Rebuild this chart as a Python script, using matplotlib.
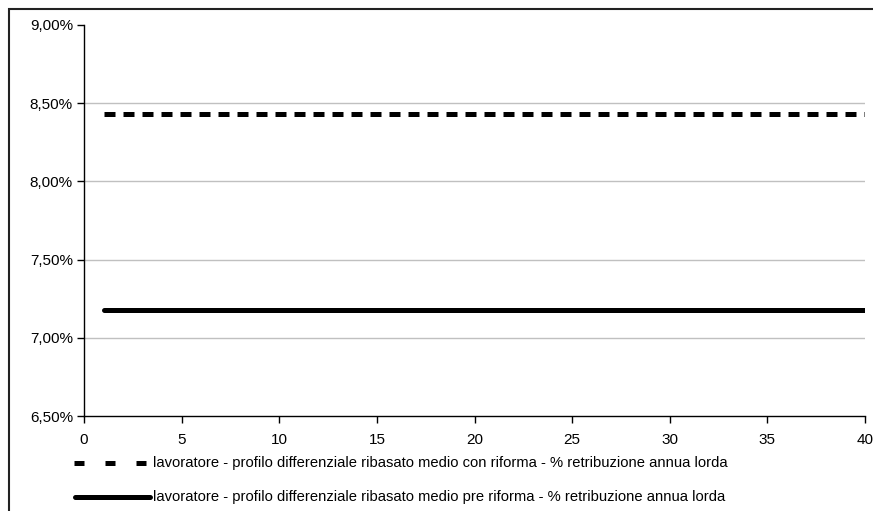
import matplotlib
matplotlib.use("Agg")
import matplotlib.pyplot as plt
from matplotlib import font_manager
from matplotlib.lines import Line2D
from matplotlib.patches import Rectangle
from matplotlib.ticker import FuncFormatter, MultipleLocator

# pick the regular (non-narrow) Liberation Sans face
regular = [f for f in font_manager.fontManager.ttflist
           if 'LiberationSans-Regular' in f.fname]
plt.rcParams['font.family'] = ['Liberation Sans', 'DejaVu Sans']

# Years of the working career
anni = list(range(1, 41))

# Average rebased differential profile, % of gross annual pay
con_riforma = [0.0843, 0.0843, 0.0843, 0.0843, 0.0843, 0.0843, 0.0843, 0.0843,
               0.0843, 0.0843, 0.0843, 0.0843, 0.0843, 0.0843, 0.0843, 0.0843,
               0.0843, 0.0843, 0.0843, 0.0843, 0.0843, 0.0843, 0.0843, 0.0843,
               0.0843, 0.0843, 0.0843, 0.0843, 0.0843, 0.0843, 0.0843, 0.0843,
               0.0843, 0.0843, 0.0843, 0.0843, 0.0843, 0.0843, 0.0843, 0.0843]
pre_riforma = [0.0718, 0.0718, 0.0718, 0.0718, 0.0718, 0.0718, 0.0718, 0.0718,
               0.0718, 0.0718, 0.0718, 0.0718, 0.0718, 0.0718, 0.0718, 0.0718,
               0.0718, 0.0718, 0.0718, 0.0718, 0.0718, 0.0718, 0.0718, 0.0718,
               0.0718, 0.0718, 0.0718, 0.0718, 0.0718, 0.0718, 0.0718, 0.0718,
               0.0718, 0.0718, 0.0718, 0.0718, 0.0718, 0.0718, 0.0718, 0.0718]

etichetta_con = "lavoratore - profilo differenziale ribasato medio con riforma - % retribuzione annua lorda"
etichetta_pre = "lavoratore - profilo differenziale ribasato medio pre riforma - % retribuzione annua lorda"

fp = font_manager.FontProperties(fname=regular[0].fname) if regular else None

W, H = 873, 511
fig = plt.figure(figsize=(W / 100, H / 100), dpi=100)
ax = fig.add_axes([84 / W, 1 - 416 / H, (865 - 84) / W, (416 - 25) / H])

# horizontal grid
for g in [0.070, 0.075, 0.080, 0.085]:
    ax.axhline(g, color='#c0c0c0', lw=1.0, zorder=0)

ax.plot(anni, con_riforma, color='black', lw=3.6, linestyle=(0, (2.2, 1.6)),
        dash_capstyle='butt', zorder=3)
ax.plot(anni, pre_riforma, color='black', lw=3.6, solid_capstyle='round', zorder=3)

ax.set_xlim(0, 40)
ax.set_ylim(0.065, 0.090)
ax.xaxis.set_major_locator(MultipleLocator(5))
ax.yaxis.set_major_locator(MultipleLocator(0.005))
ax.yaxis.set_major_formatter(FuncFormatter(lambda v, p: f"{v * 100:.2f}%".replace('.', ',')))

for s in ['top', 'right']:
    ax.spines[s].set_visible(False)
for s in ['left', 'bottom']:
    ax.spines[s].set_linewidth(1.0)
    ax.spines[s].set_color('black')
ax.tick_params(axis='both', direction='out', length=5, width=1.0,
               colors='black', pad=3)
ax.tick_params(axis='x', pad=7)
for lab in ax.get_xticklabels() + ax.get_yticklabels():
    if fp is not None:
        lab.set_fontproperties(fp)
    lab.set_fontsize(11)


def fx(x):
    return x / W


def fy(y):
    return 1 - y / H


# legend below the plot
fig.add_artist(Line2D([fx(74), fx(148)], [fy(463), fy(463)], color='black', lw=3.6,
                      linestyle=(0, (2.0, 4.2)), dash_capstyle='butt',
                      transform=fig.transFigure))
fig.text(fx(153), fy(463), etichetta_con, fontproperties=fp, fontsize=10.65,
         va='center', ha='left')
fig.add_artist(Line2D([fx(75), fx(150)], [fy(497), fy(497)], color='black', lw=3.6,
                      solid_capstyle='round', transform=fig.transFigure))
fig.text(fx(153), fy(497), etichetta_pre, fontproperties=fp, fontsize=10.65,
         va='center', ha='left')

# chart frame
fig.add_artist(Rectangle((fx(9), fy(530)), fx(900), fy(9) - fy(530), fill=False,
                         edgecolor='#222222', lw=1.5, transform=fig.transFigure))

fig.savefig("out.png", dpi=100)
